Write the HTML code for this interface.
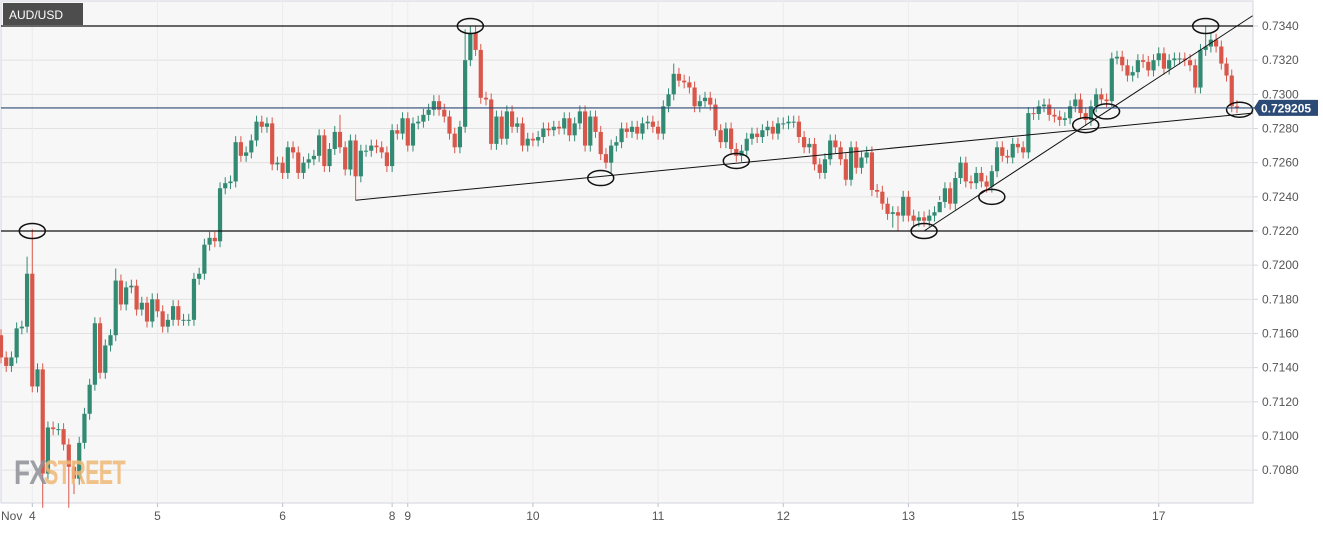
<!DOCTYPE html>
<html><head><meta charset="utf-8">
<style>
html,body{margin:0;padding:0;background:#fff;}
body{width:1323px;height:529px;overflow:hidden;font-family:"Liberation Sans",sans-serif;}
</style></head>
<body>
<svg id="chart" width="1323" height="529" viewBox="0 0 1323 529" xmlns="http://www.w3.org/2000/svg">
  <rect x="1" y="1" width="1252" height="502" fill="#f7f7f7" stroke="#d0d5e2" stroke-width="1"/>
  <g id="grid"></g>
  <g id="candles"></g>
  <g id="annot"></g>
  <g id="yaxis"></g>
  <g id="xaxis"></g>
  <g font-family="Liberation Sans, sans-serif" font-weight="bold" font-size="34" style="letter-spacing:-1px">
    <text x="14" y="484" fill="#8e9096" opacity="0.85" textLength="32" lengthAdjust="spacingAndGlyphs">FX</text>
    <text x="44" y="484" fill="#f0b878" opacity="0.85" textLength="81" lengthAdjust="spacingAndGlyphs">STREET</text>
  </g>
  <g>
    <rect x="3" y="3" width="80" height="22" fill="#4d4d4d"/>
    <text x="9" y="19" fill="#fff" font-size="12">AUD/USD</text>
  </g>
</svg>
<script>
const closes = [
0.7146,0.7141,0.7146,0.7163,0.7164,0.7195,0.7129,0.7139,0.7078,0.7105,0.7104,0.7104,0.7095,0.7082,0.7075,0.7096,0.7113,0.7130,0.7166,0.7137,0.7153,0.7159,0.7191,0.7177,0.7187,0.7188,0.7174,0.7178,0.7167,0.7180,0.7173,0.7164,0.7168,0.7176,0.7168,0.7168,0.7168,0.7192,0.7195,0.7212,0.7216,0.7214,
0.7245,0.7248,0.7249,0.7272,0.7264,0.7266,0.7273,0.7284,0.7281,0.7283,0.7259,0.7260,0.7254,0.7269,0.7266,0.7254,0.7260,0.7262,0.7264,0.7276,0.7258,0.7268,0.7278,0.7269,0.7256,0.7273,0.7252,0.7267,0.7267,0.7270,0.7269,0.7266,0.7258,
0.7279,0.7277,
0.7286,0.7270,0.7283,0.7284,0.7288,0.7291,0.7296,0.7291,0.7287,0.7277,0.7269,0.7281,0.7320,0.7336,0.7326,0.7298,0.7297,0.7271,0.7287,0.7274,0.7290,0.7281,0.7283,0.7270,0.7274,0.7273,0.7275,0.7280,0.7279,0.7281,0.7280,0.7286,0.7276,0.7283,0.7290,0.7270,0.7287,0.7278,0.7265,0.7260,0.7270,0.7272,
0.7280,0.7278,0.7281,0.7277,0.7283,0.7284,0.7281,0.7277,0.7293,0.7300,0.7312,0.7308,0.7307,0.7304,0.7293,0.7296,0.7298,0.7294,0.7279,0.7272,0.7280,0.7268,0.7264,0.7267,0.7274,0.7277,0.7275,0.7279,0.7281,0.7277,0.7283,0.7283,0.7284,0.7284,0.7275,0.7269,0.7271,0.7259,0.7254,
0.7262,0.7273,0.7269,0.7262,0.7250,0.7269,0.7257,0.7263,0.7266,0.7244,0.7243,0.7236,0.7230,0.7231,0.7229,0.7240,0.7229,0.7226,0.7228,0.7226,0.7229,0.7231,0.7237,0.7245,0.7236,0.7251,0.7260,0.7249,0.7248,0.7254,0.7249,0.7246,0.7255,0.7269,0.7264,0.7263,0.7271,0.7269,0.7266,0.7289,
0.72885,0.7293,0.7294,0.7288,0.7287,0.7285,0.7286,0.7293,0.7297,0.7289,0.7285,0.7293,0.7300,0.7297,0.7296,0.7321,0.7322,0.7317,0.7311,0.7313,0.7320,0.7319,0.7314,0.7320,0.7324,0.7315,0.7320,0.7321,0.7321,0.7320,0.7317,0.7304,0.7326,0.7328,0.7332,0.7328,0.7318,0.7311,0.7293,0.72921
];
const firstOpen = 0.7159;
const wickHighIdx = [5, 6, 22, 65, 89, 90, 91, 129, 231];
const wickHighVal = [0.7205, 0.7221, 0.7198, 0.7288, 0.7338, 0.7340, 0.7340, 0.7318, 0.7340];
const wickLowIdx = [8, 13, 14, 68, 117, 171, 172, 180, 237];
const wickLowVal = [0.7058, 0.7058, 0.7066, 0.7238, 0.7254, 0.7222, 0.7220, 0.7238, 0.7289];
const yTicks = [0.7340,0.7320,0.7300,0.7280,0.7260,0.7240,0.7220,0.7200,0.7180,0.7160,0.7140,0.7120,0.7100,0.7080];
const dayLabels = ["Nov","4","5","6","8","9","10","11","12","13","15","17"];
const dayIdx = [-5.5,6,30,54,75,78,102,126,150,174,195,222];
const hLevels = [0.7340, 0.7220];
const lastPrice = 0.729205;
const trendA = [[68, 0.7238],[240, 0.7289]];
const trendB = [[177, 0.7220],[240, 0.7346]];
const circleIdx = [6, 90, 115, 141, 177, 190, 208, 212, 231, 237.5];
const circleVal = [0.7220, 0.7340, 0.7251, 0.7261, 0.7220, 0.7240, 0.7282, 0.7290, 0.7340, 0.7291];

const NS = "http://www.w3.org/2000/svg";
const X0 = 1, STEP = 5.215, PLOT_R = 1253;
const xs = i => X0 + i * STEP;
const ys = p => 26 + (0.7340 - p) * 17083;
function mk(tag, attrs, parent){ const e=document.createElementNS(NS,tag); for(const k in attrs) e.setAttribute(k,attrs[k]); parent.appendChild(e); return e; }

const grid=document.getElementById('grid'), cg=document.getElementById('candles'), an=document.getElementById('annot'), ya=document.getElementById('yaxis'), xa=document.getElementById('xaxis');

yTicks.forEach(t=>{
  const l=mk('line',{x1:1,x2:PLOT_R,y1:ys(t),y2:ys(t),stroke:'#e2e2e2','stroke-width':1},grid);
  
  
  const tk=mk('line',{x1:PLOT_R,x2:PLOT_R+5,y1:ys(t),y2:ys(t),stroke:'#d0d5e2'},ya);
  
  
  const tx=mk('text',{x:1262,y:ys(t)+4,'font-size':12,fill:'#555'},ya);
  tx.textContent=t.toFixed(4);
  
  
});
dayLabels.forEach((d,k)=>{
  const x=xs(dayIdx[k]);
  if(d!=="Nov"){
    const v=mk('line',{x1:x,x2:x,y1:1,y2:503,stroke:'#ececec'},grid);
    
    
    const tk=mk('line',{x1:x,x2:x,y1:503,y2:507,stroke:'#b8bfd0'},xa);
    
    
  }
  const tx=mk('text',{x:d==="Nov"?1:x,y:520,'font-size':12,fill:'#555','text-anchor':d==="Nov"?'start':'middle'},xa);
  tx.textContent=d;
  
  
});

closes.forEach((c,i)=>{
  const o = i===0 ? firstOpen : closes[i-1];
  const up = c>=o;
  let hi = Math.max(o,c)+0.00035, lo = Math.min(o,c)-0.00035;
  const hk=wickHighIdx.indexOf(i); if(hk>=0) hi=wickHighVal[hk];
  const lk=wickLowIdx.indexOf(i); if(lk>=0) lo=wickLowVal[lk];
  const col = up ? '#328a73' : '#d9574a';
  const x=xs(i);
  const w=mk('line',{x1:x,x2:x,y1:ys(hi),y2:ys(lo),stroke:col,'stroke-width':1},cg);
  
  
  const top=ys(Math.max(o,c)), h=Math.max(1,ys(Math.min(o,c))-top);
  const b=mk('rect',{x:x-2.1,y:top,width:4.2,height:h,fill:col},cg);
  
  
});

hLevels.forEach(p=>{
  const l=mk('line',{x1:1,x2:PLOT_R,y1:ys(p),y2:ys(p),stroke:'#111','stroke-width':1.2},an);
  
  
});
[trendA,trendB].forEach(t=>{
  const l=mk('line',{x1:xs(t[0][0]),y1:ys(t[0][1]),x2:xs(t[1][0]),y2:ys(t[1][1]),stroke:'#111','stroke-width':1},an);
  
  
});
circleIdx.forEach((ci,k)=>{
  const e=mk('ellipse',{cx:xs(ci),cy:ys(circleVal[k]),rx:13,ry:7.5,fill:'none',stroke:'#111','stroke-width':1.5},an);
  
  
});
const pl=mk('line',{x1:1,x2:PLOT_R+6,y1:ys(lastPrice),y2:ys(lastPrice),stroke:'#2b4a75','stroke-width':1.2},an);


const tag=mk('path',{d:`M1254 ${ys(lastPrice)} L1259 ${ys(lastPrice)-8} L1318 ${ys(lastPrice)-8} L1318 ${ys(lastPrice)+8} L1259 ${ys(lastPrice)+8} Z`,fill:'#2b4a75'},ya);


const tt=mk('text',{x:1261,y:ys(lastPrice)+4.5,'font-size':12,'font-weight':'bold',fill:'#fff'},ya);
tt.textContent=lastPrice.toFixed(6);


</script>
</body></html>
